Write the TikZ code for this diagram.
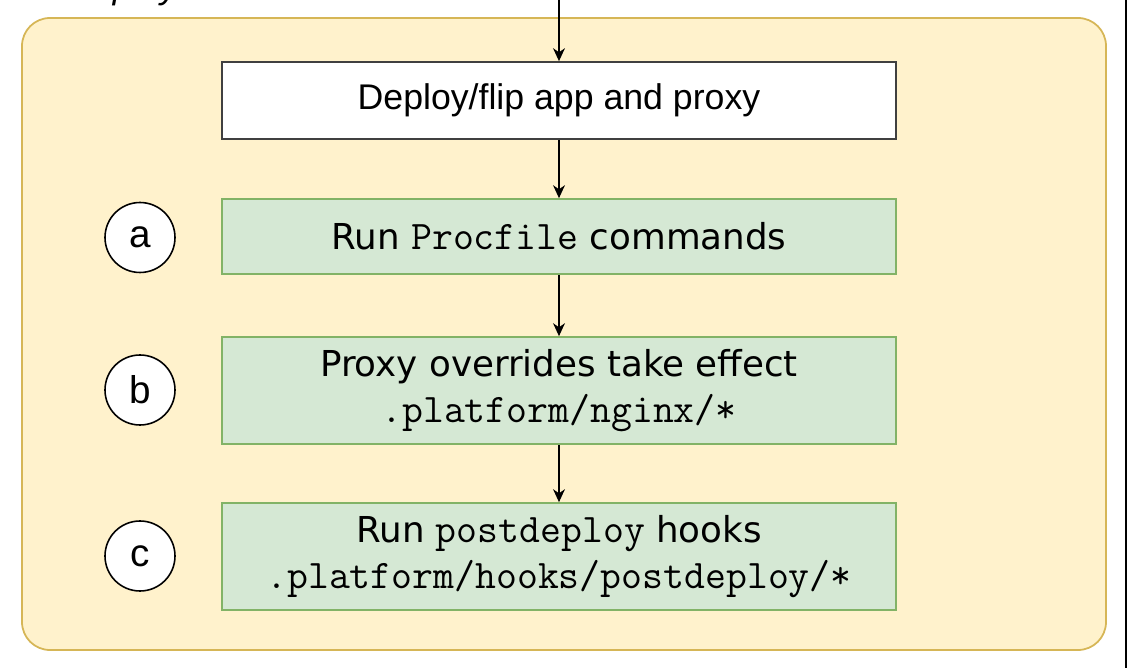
\documentclass[tikz,border=0pt]{standalone}
\usepackage{fontspec}
\setmainfont{Liberation Sans}
\newfontfamily\stepfont{DejaVu Sans}
\newcommand\code[1]{{\ttfamily\fontsize{23.1}{26}\selectfont #1}}
\usetikzlibrary{arrows.meta}

\definecolor{panelfill}{HTML}{FFF2CC}
\definecolor{panelline}{HTML}{D6B656}
\definecolor{stepfill}{HTML}{D5E8D4}
\definecolor{stepline}{HTML}{82B366}

\tikzset{
  flow/.style={-{Stealth[length=0.26cm,width=0.24cm]}, line width=0.6pt},
  plainbox/.style={draw=black!75, fill=white, line width=1pt,
    minimum width=13.48cm, minimum height=1.54cm, inner sep=0pt,
    font=\fontsize{20.3}{26}\selectfont},
  greenbox/.style={draw=stepline, fill=stepfill, line width=1pt,
    minimum width=13.48cm, inner sep=0pt, align=center,
    font=\stepfont\fontsize{20.3}{26}\selectfont},
  marker/.style={circle, draw=black, fill=white, line width=0.9pt,
    minimum size=1.4cm, inner sep=0pt, font=\fontsize{22}{26}\selectfont}
}

\begin{document}
\begin{tikzpicture}
   \useasboundingbox (0,0) rectangle (22.56,13.36);
   \fill[white] (0,0) rectangle (22.56,13.36);

   % phase panel
   \draw[panelline, fill=panelfill, line width=1pt, rounded corners=0.56cm]
     (0.44,0.36) rectangle (22.12,13.0);
   \node[anchor=base west, font=\itshape\fontsize{20.3}{26}\selectfont]
     (phase) at (1.22,13.385) {Deploy};
   \draw[line width=1.1pt] (22.516,0) -- (22.516,13.36);

   \node[plainbox] (flip) at (11.18,11.35) {Deploy/flip app and proxy};
   \node[greenbox, minimum height=1.5cm] (procfile) at (11.18,8.63)
     {Run \code{Procfile} commands};
   \node[greenbox, minimum height=2.14cm] (nginx) at (11.18,5.55)
     {Proxy overrides take effect\\\code{.platform/nginx/*}};
   \node[greenbox, minimum height=2.14cm] (hooks) at (11.18,2.23)
     {Run \code{postdeploy} hooks\\\code{.platform/hooks/postdeploy/*}};

   \node[marker] (a) at (2.8,8.61) {a};
   \node[marker] (b) at (2.8,5.56) {b};
   \node[marker] (c) at (2.8,2.24) {c};

   \coordinate (entry) at (11.18,13.36);
   \draw[flow] (entry) -- (flip);
   \draw[flow] (flip) -- (procfile);
   \draw[flow] (procfile) -- (nginx);
   \draw[flow] (nginx) -- (hooks);
\end{tikzpicture}
\end{document}
